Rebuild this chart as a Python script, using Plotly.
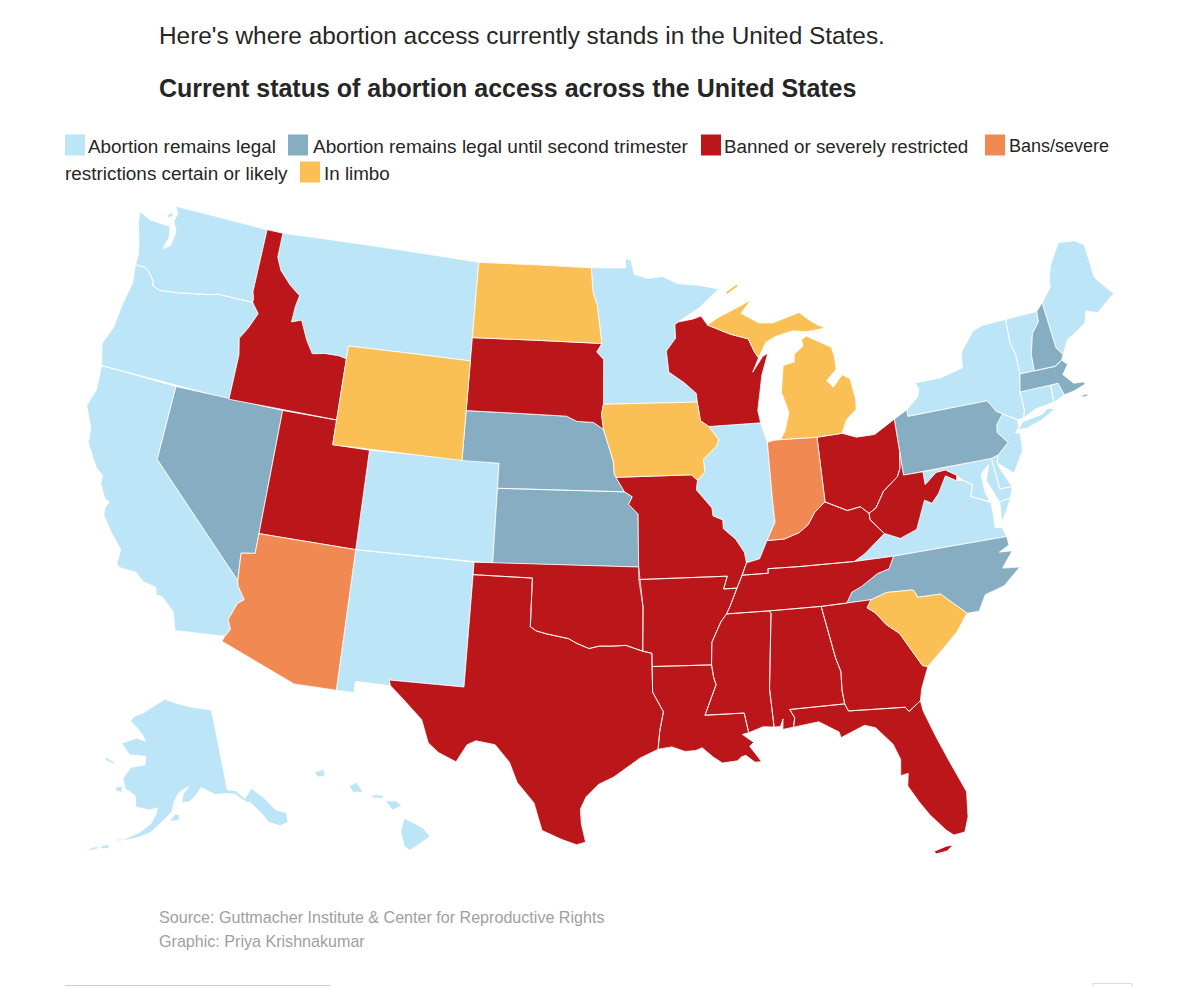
import plotly.graph_objects as go

# state outlines as (lon, lat), read by eye
WA = [(-117.03,49.00),(-122.76,49.00),(-122.50,48.75),(-122.60,48.40),(-122.30,48.00),(-122.40,47.40),(-122.80,47.20),(-122.60,47.70),(-122.75,48.15),(-123.20,48.15),(-124.00,48.17),(-124.72,48.38),(-124.60,47.90),(-124.20,47.10),(-124.05,46.70),(-124.05,46.27),(-123.50,46.27),(-123.20,46.15),(-122.80,45.85),(-122.75,45.65),(-122.30,45.55),(-121.20,45.65),(-120.65,45.74),(-119.95,45.83),(-119.30,45.93),(-119.00,46.00),(-116.92,46.00),(-116.92,46.17),(-117.04,46.42)]
WA_SAN_JUAN = [(-123.10,48.55),(-122.80,48.72),(-122.75,48.60),(-122.95,48.45)]
OR = [(-124.05,46.27),(-123.50,46.27),(-123.20,46.15),(-122.80,45.85),(-122.75,45.65),(-122.30,45.55),(-121.20,45.65),(-120.65,45.74),(-119.95,45.83),(-119.30,45.93),(-119.00,46.00),(-116.92,46.00),(-116.47,45.60),(-116.85,44.95),(-117.22,44.47),(-117.03,43.83),(-117.03,42.00),(-124.21,42.00),(-124.55,42.84),(-124.20,43.60),(-124.10,44.60),(-123.90,45.50)]
CA = [(-124.21,42.00),(-120.00,42.00),(-120.00,39.00),(-114.63,35.00),(-114.57,34.80),(-114.14,34.30),(-114.43,34.10),(-114.72,33.40),(-114.52,33.03),(-114.72,32.72),(-117.12,32.53),(-117.25,32.85),(-117.40,33.25),(-118.10,33.73),(-118.40,33.75),(-118.50,34.03),(-119.20,34.15),(-119.60,34.42),(-120.47,34.45),(-120.65,34.58),(-120.63,35.15),(-121.30,35.70),(-121.90,36.30),(-121.95,36.60),(-121.80,36.85),(-122.10,36.97),(-122.50,37.50),(-122.50,37.80),(-122.95,38.05),(-123.70,38.90),(-123.80,39.50),(-124.35,40.30),(-124.10,41.00)]
NV = [(-120.00,42.00),(-114.04,42.00),(-114.04,36.20),(-114.74,36.10),(-114.63,35.00),(-120.00,39.00)]
ID = [(-117.03,49.00),(-116.05,49.00),(-116.05,48.00),(-115.70,47.50),(-115.00,47.00),(-114.33,46.65),(-114.45,46.20),(-114.50,45.55),(-113.95,45.70),(-113.45,44.95),(-113.00,44.45),(-112.30,44.55),(-111.50,44.55),(-111.05,44.48),(-111.05,42.00),(-117.03,42.00),(-117.03,43.83),(-117.22,44.47),(-116.85,44.95),(-116.47,45.60),(-116.92,46.00),(-116.92,46.17),(-117.04,46.42)]
MT = [(-116.05,49.00),(-104.05,49.00),(-104.05,45.00),(-111.05,45.00),(-111.05,44.48),(-111.50,44.55),(-112.30,44.55),(-113.00,44.45),(-113.45,44.95),(-113.95,45.70),(-114.50,45.55),(-114.45,46.20),(-114.33,46.65),(-115.00,47.00),(-115.70,47.50),(-116.05,48.00)]
WY = [(-111.05,45.00),(-104.05,45.00),(-104.05,41.00),(-111.05,41.00)]
UT = [(-114.04,42.00),(-111.05,42.00),(-111.05,41.00),(-109.05,41.00),(-109.05,37.00),(-114.04,37.00)]
CO = [(-109.05,41.00),(-102.05,41.00),(-102.05,37.00),(-109.05,37.00)]
AZ = [(-114.04,37.00),(-109.05,37.00),(-109.05,31.33),(-111.07,31.33),(-114.81,32.50),(-114.72,32.72),(-114.52,33.03),(-114.72,33.40),(-114.43,34.10),(-114.14,34.30),(-114.57,34.80),(-114.63,35.00),(-114.74,36.10),(-114.04,36.20)]
NM = [(-109.05,37.00),(-103.00,37.00),(-103.04,32.00),(-106.62,32.00),(-106.53,31.78),(-108.21,31.78),(-108.21,31.33),(-109.05,31.33)]
ND = [(-104.05,49.00),(-97.23,49.00),(-97.10,48.00),(-96.85,47.50),(-96.56,45.94),(-104.05,45.94)]
SD = [(-104.05,45.94),(-96.56,45.94),(-96.85,45.60),(-96.45,45.30),(-96.45,43.50),(-96.55,43.10),(-96.44,42.49),(-97.00,42.77),(-97.90,42.80),(-98.50,43.00),(-104.05,43.00)]
NE = [(-104.05,43.00),(-98.50,43.00),(-97.90,42.80),(-97.00,42.77),(-96.44,42.49),(-96.10,41.70),(-95.90,41.20),(-95.85,40.70),(-95.31,40.00),(-102.05,40.00),(-102.05,41.00),(-104.05,41.00)]
KS = [(-102.05,40.00),(-95.31,40.00),(-94.90,39.80),(-95.10,39.50),(-94.61,39.11),(-94.62,37.00),(-102.05,37.00)]
OK = [(-103.00,37.00),(-94.62,37.00),(-94.43,35.40),(-94.48,33.64),(-95.30,33.88),(-96.00,33.85),(-96.60,33.85),(-97.10,33.75),(-97.70,33.95),(-98.10,34.13),(-99.20,34.30),(-99.70,34.40),(-100.00,34.56),(-100.00,36.50),(-103.00,36.50)]
TX = [(-103.00,36.50),(-100.00,36.50),(-100.00,34.56),(-99.70,34.40),(-99.20,34.30),(-98.10,34.13),(-97.70,33.95),(-97.10,33.75),(-96.60,33.85),(-96.00,33.85),(-95.30,33.88),(-94.48,33.64),(-94.04,33.55),(-94.04,31.99),(-93.55,31.20),(-93.75,30.40),(-93.84,29.70),(-94.70,29.35),(-95.10,29.10),(-95.90,28.60),(-96.60,28.30),(-97.15,27.80),(-97.40,27.30),(-97.35,26.70),(-97.15,25.96),(-97.55,25.85),(-98.20,26.05),(-99.10,26.40),(-99.50,27.50),(-100.30,28.30),(-100.70,29.10),(-101.40,29.77),(-102.30,29.88),(-102.70,29.70),(-103.15,28.98),(-104.00,29.30),(-104.50,29.65),(-104.90,30.55),(-106.00,31.40),(-106.53,31.78),(-106.62,32.00),(-103.04,32.00)]
MN = [(-97.23,49.00),(-95.15,49.00),(-95.15,49.38),(-94.82,49.32),(-94.64,48.74),(-93.80,48.55),(-92.95,48.62),(-92.00,48.30),(-90.80,48.20),(-89.60,48.00),(-90.80,47.30),(-92.10,46.75),(-92.30,46.66),(-92.29,46.10),(-92.85,45.60),(-92.75,44.75),(-91.90,44.30),(-91.25,43.85),(-91.22,43.50),(-96.45,43.50),(-96.45,45.30),(-96.85,45.60),(-96.56,45.94),(-96.85,47.50),(-97.10,48.00)]
IA = [(-96.45,43.50),(-91.22,43.50),(-91.10,42.75),(-90.65,42.50),(-90.15,41.95),(-90.30,41.70),(-91.05,41.20),(-91.00,40.70),(-91.42,40.38),(-91.73,40.61),(-95.77,40.58),(-95.85,40.70),(-95.90,41.20),(-96.10,41.70),(-96.44,42.49),(-96.55,43.10)]
MO = [(-95.77,40.58),(-91.73,40.61),(-91.42,40.38),(-91.50,40.00),(-90.73,39.25),(-90.70,38.93),(-90.20,38.75),(-90.20,38.40),(-89.60,37.95),(-89.20,37.40),(-89.13,36.98),(-89.40,36.50),(-89.70,36.00),(-90.37,36.00),(-90.15,36.50),(-94.62,36.50),(-94.62,37.00),(-94.61,39.11),(-95.10,39.50),(-94.90,39.80),(-95.31,40.00)]
AR = [(-94.62,36.50),(-90.15,36.50),(-90.37,36.00),(-89.70,36.00),(-90.10,35.30),(-90.30,35.00),(-90.60,34.70),(-91.10,33.90),(-91.17,33.00),(-94.04,33.02),(-94.04,33.55),(-94.48,33.64),(-94.43,35.40)]
LA = [(-94.04,33.02),(-91.17,33.00),(-91.10,32.50),(-91.00,32.20),(-91.60,31.00),(-89.75,31.00),(-89.60,30.20),(-89.90,30.15),(-89.40,29.80),(-89.60,29.65),(-89.40,29.40),(-89.10,29.00),(-89.40,29.00),(-89.80,29.30),(-90.00,29.25),(-90.20,29.10),(-90.90,29.05),(-91.30,29.30),(-91.80,29.70),(-92.10,29.60),(-92.60,29.58),(-93.20,29.78),(-93.84,29.70),(-93.75,30.40),(-93.55,31.20),(-94.04,31.99)]
MS = [(-90.30,35.00),(-88.20,35.00),(-88.10,34.90),(-88.47,31.90),(-88.40,30.35),(-88.90,30.40),(-89.60,30.20),(-89.75,31.00),(-91.60,31.00),(-91.00,32.20),(-91.10,32.50),(-91.17,33.00),(-91.10,33.90),(-90.60,34.70)]
AL = [(-88.20,35.00),(-85.60,34.98),(-85.18,32.87),(-85.00,32.30),(-85.05,31.55),(-85.00,31.00),(-87.60,31.00),(-87.40,30.65),(-87.50,30.28),(-88.00,30.23),(-87.95,30.65),(-88.10,30.35),(-88.40,30.35),(-88.47,31.90),(-88.10,34.90)]
GA = [(-85.60,34.98),(-83.11,35.00),(-83.35,34.70),(-83.00,34.47),(-82.55,33.95),(-81.95,33.50),(-81.40,32.60),(-81.10,32.10),(-80.85,32.03),(-81.30,31.20),(-81.45,30.72),(-82.05,30.36),(-82.20,30.55),(-84.86,30.70),(-85.00,31.00),(-85.05,31.55),(-85.00,32.30),(-85.18,32.87)]
FL = [(-87.60,31.00),(-85.00,31.00),(-84.86,30.70),(-82.20,30.55),(-82.05,30.36),(-81.45,30.72),(-81.40,30.30),(-81.00,29.20),(-80.60,28.20),(-80.03,26.80),(-80.15,25.80),(-80.40,25.20),(-80.90,25.15),(-81.20,25.40),(-81.80,26.10),(-82.20,26.70),(-82.60,27.40),(-82.50,27.90),(-82.85,27.85),(-82.75,28.50),(-83.00,29.15),(-83.70,29.90),(-84.20,30.05),(-85.35,29.67),(-85.40,29.90),(-86.30,30.40),(-87.50,30.28),(-87.40,30.65)]
FL_KEYS = [(-81.85,24.62),(-81.30,24.75),(-81.00,24.75),(-81.30,24.55),(-81.80,24.50)]
TN = [(-90.30,35.00),(-88.20,35.00),(-85.60,34.98),(-84.32,34.99),(-84.00,35.40),(-83.50,35.57),(-82.60,36.00),(-82.00,36.12),(-81.68,36.59),(-83.68,36.60),(-86.50,36.65),(-88.07,36.68),(-88.07,36.50),(-89.40,36.50),(-89.70,36.00),(-90.10,35.30)]
KY = [(-89.40,36.50),(-88.07,36.50),(-88.07,36.68),(-86.50,36.65),(-83.68,36.60),(-83.10,36.85),(-81.97,37.54),(-82.60,38.17),(-82.60,38.42),(-83.00,38.73),(-83.70,38.65),(-84.80,39.10),(-85.40,38.73),(-85.80,38.28),(-86.30,38.00),(-87.10,37.80),(-88.00,37.80),(-88.45,37.10),(-89.13,36.98)]
OH = [(-84.82,41.70),(-83.45,41.73),(-82.70,41.50),(-81.70,41.50),(-80.52,41.98),(-80.52,40.64),(-80.65,40.00),(-80.85,39.70),(-81.70,39.20),(-82.20,38.60),(-82.60,38.42),(-83.00,38.73),(-83.70,38.65),(-84.80,39.10)]
IN = [(-87.53,41.70),(-87.20,41.75),(-86.80,41.76),(-84.82,41.70),(-84.80,39.10),(-85.40,38.73),(-85.80,38.28),(-86.30,38.00),(-87.10,37.80),(-88.00,37.80),(-87.50,38.50),(-87.53,39.35)]
IL = [(-90.65,42.50),(-87.80,42.50),(-87.53,41.70),(-87.53,39.35),(-87.50,38.50),(-88.00,37.80),(-88.45,37.10),(-89.13,36.98),(-89.20,37.40),(-89.60,37.95),(-90.20,38.40),(-90.20,38.75),(-90.70,38.93),(-90.73,39.25),(-91.50,40.00),(-91.42,40.38),(-91.00,40.70),(-91.05,41.20),(-90.30,41.70),(-90.15,41.95)]
WI = [(-92.10,46.75),(-91.20,46.85),(-90.75,46.95),(-90.40,46.57),(-89.10,46.14),(-88.10,45.90),(-87.80,45.35),(-87.60,45.10),(-88.00,44.55),(-87.35,45.15),(-87.05,45.25),(-87.50,44.40),(-87.70,43.70),(-87.90,43.00),(-87.80,42.50),(-90.65,42.50),(-91.10,42.75),(-91.22,43.50),(-91.25,43.85),(-91.90,44.30),(-92.75,44.75),(-92.85,45.60),(-92.29,46.10),(-92.30,46.66)]
MI_LOWER = [(-84.75,45.78),(-84.10,45.50),(-83.40,45.20),(-83.30,44.80),(-83.30,44.30),(-83.90,43.90),(-83.60,43.60),(-83.00,44.05),(-82.60,43.85),(-82.45,43.00),(-82.50,42.60),(-83.10,42.25),(-83.45,41.73),(-84.82,41.70),(-86.80,41.76),(-86.50,42.10),(-86.20,42.80),(-86.50,43.65),(-86.25,44.70),(-85.60,44.80),(-85.55,45.10),(-85.00,45.40),(-85.05,45.65)]
MI_UPPER = [(-90.40,46.57),(-89.80,46.83),(-88.90,47.10),(-87.75,47.45),(-88.40,46.95),(-87.40,46.50),(-86.60,46.45),(-85.00,46.75),(-84.55,46.45),(-84.10,46.20),(-83.60,46.00),(-84.70,45.95),(-85.50,46.05),(-86.50,45.90),(-87.10,45.70),(-87.60,45.10),(-87.80,45.35),(-88.10,45.90),(-89.10,46.14)]
MI_ROYALE = [(-89.20,47.85),(-88.50,48.15),(-88.45,48.05),(-89.15,47.75)]
PA = [(-80.52,41.98),(-79.76,42.27),(-79.76,42.00),(-75.35,42.00),(-75.00,41.50),(-74.70,41.36),(-75.13,40.98),(-75.20,40.68),(-74.75,40.20),(-75.40,39.80),(-75.79,39.72),(-80.52,39.72),(-80.52,40.64)]
NY = [(-79.76,42.27),(-79.05,42.70),(-78.90,43.00),(-79.05,43.27),(-77.60,43.28),(-76.30,43.50),(-76.20,44.10),(-75.30,44.85),(-74.70,45.00),(-73.34,45.01),(-73.40,44.00),(-73.25,43.55),(-73.27,42.75),(-73.50,42.05),(-73.50,41.30),(-73.65,41.00),(-74.00,41.00),(-74.70,41.36),(-75.00,41.50),(-75.35,42.00),(-79.76,42.00)]
NY_LONG_ISLAND = [(-74.05,40.60),(-73.75,40.87),(-72.60,40.98),(-72.30,41.15),(-71.87,41.07),(-72.75,40.75),(-73.60,40.58)]
NJ = [(-74.70,41.36),(-74.00,41.00),(-74.00,40.70),(-74.25,40.50),(-74.00,40.45),(-74.10,39.75),(-74.80,38.95),(-75.20,39.25),(-75.55,39.50),(-75.40,39.80),(-74.75,40.20),(-75.20,40.68),(-75.13,40.98)]
DE = [(-75.79,39.72),(-75.40,39.80),(-75.55,39.50),(-75.40,39.10),(-75.05,38.45),(-75.70,38.46)]
MD = [(-79.48,39.72),(-75.79,39.72),(-75.70,38.46),(-75.05,38.45),(-75.25,38.03),(-75.85,37.95),(-76.30,38.90),(-76.00,39.50),(-76.50,39.20),(-76.50,38.50),(-76.35,38.05),(-77.00,38.30),(-77.25,38.40),(-77.05,38.85),(-77.50,39.10),(-77.75,39.33),(-78.30,39.63),(-78.80,39.60),(-79.48,39.20)]
VA = [(-83.68,36.60),(-81.68,36.59),(-75.87,36.55),(-76.00,36.93),(-76.35,37.00),(-76.30,37.55),(-76.30,38.00),(-77.00,38.30),(-77.25,38.40),(-77.05,38.85),(-77.50,39.10),(-77.83,39.13),(-78.35,39.40),(-78.87,38.76),(-79.30,38.42),(-79.65,38.60),(-80.30,37.50),(-81.20,37.25),(-81.97,37.54),(-83.10,36.85)]
VA_SHORE = [(-75.95,37.15),(-75.85,37.95),(-75.25,38.03),(-75.65,37.50)]
WV = [(-82.60,38.17),(-81.97,37.54),(-81.20,37.25),(-80.30,37.50),(-79.65,38.60),(-79.30,38.42),(-78.87,38.76),(-78.35,39.40),(-77.83,39.13),(-77.75,39.33),(-78.30,39.63),(-78.80,39.60),(-79.48,39.20),(-79.48,39.72),(-80.52,39.72),(-80.52,40.64),(-80.65,40.00),(-80.85,39.70),(-81.70,39.20),(-82.20,38.60),(-82.60,38.42)]
NC = [(-84.32,34.99),(-84.00,35.40),(-83.50,35.57),(-82.60,36.00),(-82.00,36.12),(-81.68,36.59),(-75.87,36.55),(-75.85,36.20),(-76.40,36.00),(-75.75,35.95),(-76.40,35.35),(-75.55,35.25),(-76.50,34.65),(-77.50,34.45),(-77.95,33.85),(-78.55,33.86),(-79.67,34.80),(-80.80,34.82),(-80.93,35.10),(-81.05,35.15),(-82.30,35.20),(-83.11,35.00)]
SC = [(-83.11,35.00),(-82.30,35.20),(-81.05,35.15),(-80.93,35.10),(-80.80,34.82),(-79.67,34.80),(-78.55,33.86),(-79.20,33.20),(-79.90,32.70),(-80.85,32.03),(-81.10,32.10),(-81.40,32.60),(-81.95,33.50),(-82.55,33.95),(-83.00,34.47),(-83.35,34.70)]
CT = [(-73.50,42.05),(-71.80,42.02),(-71.85,41.32),(-72.90,41.25),(-73.65,41.00),(-73.50,41.30)]
RI = [(-71.80,42.02),(-71.38,42.02),(-71.20,41.50),(-71.85,41.32)]
MA = [(-73.27,42.75),(-71.30,42.70),(-70.85,42.87),(-70.60,42.65),(-71.00,42.30),(-70.55,41.85),(-70.00,41.80),(-70.20,42.07),(-69.95,41.70),(-70.65,41.55),(-71.20,41.50),(-71.38,42.02),(-71.80,42.02),(-73.50,42.05)]
MA_NANTUCKET = [(-70.30,41.30),(-70.00,41.30),(-70.00,41.22),(-70.30,41.22)]
VT = [(-73.34,45.01),(-71.50,45.01),(-71.55,44.60),(-72.05,44.20),(-72.40,43.40),(-72.46,42.73),(-73.27,42.75),(-73.25,43.55),(-73.40,44.00)]
NH = [(-71.50,45.01),(-71.08,45.30),(-70.98,43.40),(-70.70,43.07),(-70.85,42.87),(-71.30,42.70),(-72.46,42.73),(-72.40,43.40),(-72.05,44.20),(-71.55,44.60)]
ME = [(-71.08,45.30),(-70.40,45.80),(-70.30,46.20),(-70.00,46.70),(-69.23,47.46),(-68.30,47.35),(-67.80,47.07),(-67.80,45.70),(-67.45,45.30),(-67.00,44.85),(-68.20,44.30),(-68.80,44.50),(-69.05,44.05),(-69.80,43.75),(-70.25,43.60),(-70.70,43.07),(-70.98,43.40)]
AK = [(-141.00,69.65),(-144.00,70.00),(-148.00,70.40),(-152.00,70.85),(-156.50,71.35),(-160.00,70.50),(-163.00,69.60),(-166.20,68.90),(-166.80,68.35),(-164.50,67.70),(-162.60,67.00),(-161.50,66.30),(-164.00,66.55),(-168.10,65.65),(-165.40,64.50),(-161.00,64.60),(-161.00,63.60),(-164.50,63.10),(-166.00,61.70),(-165.00,60.60),(-162.50,60.00),(-162.00,58.70),(-159.00,58.50),(-157.20,58.80),(-157.50,58.00),(-158.50,56.90),(-160.50,55.90),(-162.80,55.10),(-164.80,54.60),(-163.00,54.80),(-161.00,55.20),(-158.50,55.90),(-156.50,57.00),(-154.00,58.40),(-153.50,59.50),(-152.50,60.50),(-151.00,61.00),(-149.90,61.20),(-151.30,60.50),(-151.80,59.40),(-150.00,59.50),(-148.50,60.10),(-147.00,61.00),(-146.00,60.70),(-144.00,60.00),(-141.50,59.90),(-139.50,59.60),(-137.50,58.50),(-136.50,58.20),(-135.00,56.80),(-134.00,55.50),(-132.00,54.70),(-130.30,54.80),(-130.00,55.90),(-131.80,56.60),(-133.50,58.40),(-135.50,59.80),(-137.50,58.90),(-139.20,60.00),(-141.00,60.30)]
AK_KODIAK = [(-154.50,57.30),(-152.50,57.40),(-152.30,58.10),(-153.30,58.10)]
AK_NUNIVAK = [(-167.40,60.20),(-165.70,60.10),(-165.70,60.80),(-166.80,60.70)]
AK_STLAWRENCE = [(-171.70,63.70),(-168.80,63.30),(-168.90,63.10),(-171.00,63.30)]
AK_UNIMAK = [(-165.00,54.40),(-163.20,54.80),(-164.00,54.95),(-165.00,54.70)]
AK_UNALASKA = [(-168.00,53.30),(-166.20,53.50),(-166.40,54.00),(-167.50,53.70)]
AK_UMNAK = [(-170.00,52.80),(-168.30,53.20),(-168.50,53.50),(-169.80,53.05)]
HI_BIG = [(-155.90,20.25),(-155.10,19.85),(-154.80,19.50),(-155.65,18.95),(-155.90,19.10),(-156.05,19.70)]
HI_MAUI = [(-156.70,20.95),(-156.25,20.95),(-156.00,20.75),(-156.40,20.58)]
HI_MOLOKAI = [(-157.30,21.20),(-156.75,21.17),(-156.85,21.05),(-157.25,21.08)]
HI_OAHU = [(-158.25,21.55),(-157.95,21.70),(-157.65,21.30),(-158.10,21.30)]
HI_KAUAI = [(-159.75,22.10),(-159.35,22.22),(-159.30,21.95),(-159.60,21.90)]

LEGAL = [WA, WA_SAN_JUAN, OR, CA, MT, CO, NM, MN, IL, NY, NY_LONG_ISLAND, VT, ME, NJ, CT, RI, DE, MD, VA, VA_SHORE, AK, AK_KODIAK, AK_NUNIVAK, AK_STLAWRENCE, AK_UNIMAK, AK_UNALASKA, AK_UMNAK, HI_BIG, HI_MAUI, HI_MOLOKAI, HI_OAHU, HI_KAUAI]
SECOND_TRIMESTER = [NV, NE, KS, NC, PA, NH, MA, MA_NANTUCKET]
BANNED = [ID, UT, SD, WI, MO, OK, TX, AR, LA, MS, AL, GA, TN, KY, OH, WV, FL, FL_KEYS]
LIKELY = [AZ, IN]
LIMBO = [ND, WY, IA, MI_LOWER, MI_UPPER, MI_ROYALE, SC]

GROUPS = [LEGAL, SECOND_TRIMESTER, BANNED, LIKELY, LIMBO]
COLORS = ["#bde5f8", "#86adc1", "#bb1619", "#f18a52", "#fac055"]

# albers usa clips to its fitted box, so the plot is wider than the page and shifted left
FIG_WIDTH = 1296
PAGE_SHIFT = 48


def clockwise(ring):
    # d3 fills the outside of the ring if it winds the wrong way
    area = sum(a[0] * b[1] - b[0] * a[1] for a, b in zip(ring, ring[1:] + ring[:1]))
    return ring if area < 0 else ring[::-1]


fig = go.Figure()
for group, color in zip(GROUPS, COLORS):
    lon, lat = [], []
    for ring in group:
        ring = clockwise(ring)
        lon += [p[0] for p in ring] + [ring[0][0], None]
        lat += [p[1] for p in ring] + [ring[0][1], None]
    fig.add_trace(go.Scattergeo(lon=lon, lat=lat, mode="lines", fill="toself", fillcolor=color,
                                line=dict(color="white", width=0.8), hoverinfo="skip", showlegend=False))


def px_x(x):
    return (x + PAGE_SHIFT) / FIG_WIDTH


def px_y(y):
    return 1 - y / 987


def text(x, y, s, size, color="#262626", bold=False):
    fig.add_annotation(x=px_x(x - 1.5), y=px_y(y), xref="paper", yref="paper", xanchor="left", yanchor="middle",
                       text="<b>%s</b>" % s if bold else s, showarrow=False, align="left",
                       font=dict(family="Liberation Sans", size=size, color=color))


def swatch(x, y, color):
    fig.add_shape(type="rect", xref="paper", yref="paper", x0=px_x(x), x1=px_x(x + 20), y0=px_y(y - 10.5), y1=px_y(y + 10.5),
                  fillcolor=color, line_width=0)


text(158, 35, "Here's where abortion access currently stands in the United States.", 24.4)
text(158, 88, "Current status of abortion access across the United States", 25, bold=True)

swatch(65, 145, COLORS[0])
text(87, 146, "Abortion remains legal", 18.9)
swatch(288, 145, COLORS[1])
text(312, 146, "Abortion remains legal until second trimester", 19)
swatch(701, 145, COLORS[2])
text(724, 146, "Banned or severely restricted", 18.8)
swatch(985, 145, COLORS[3])
text(1008, 146, "Bans/severe", 18)
text(64, 173, "restrictions certain or likely", 18.9)
swatch(300, 172, COLORS[4])
text(323, 173, "In limbo", 18.8)

text(158, 917, "Source: Guttmacher Institute &amp; Center for Reproductive Rights", 16.1, color="#a0a0a0")
text(158, 941, "Graphic: Priya Krishnakumar", 16.1, color="#a0a0a0")

# cut-off page furniture along the bottom edge
fig.add_shape(type="line", xref="paper", yref="paper", x0=px_x(65), x1=px_x(330), y0=px_y(985.5), y1=px_y(985.5),
              line=dict(color="#cfcfcf", width=1))
fig.add_shape(type="rect", xref="paper", yref="paper", x0=px_x(1093), x1=px_x(1132), y0=px_y(983.5), y1=px_y(992),
              fillcolor="white", line=dict(color="#dcdcdc", width=1))

fig.update_layout(
    width=FIG_WIDTH, height=987, margin=dict(l=0, r=0, t=0, b=0), paper_bgcolor="white",
    geo=dict(scope="usa", projection=dict(type="albers usa", scale=1.0), bgcolor="rgba(0,0,0,0)",
             domain=dict(x=[0, 1], y=[0.0606, 0.8766]),
             showland=False, showlakes=False, showcoastlines=False, showsubunits=False,
             showcountries=False, showocean=False, showrivers=False, showframe=False),
)
fig.write_html("out.html", config=dict(displayModeBar=False),
               post_script="document.body.style.margin='0 0 0 -%dpx';document.documentElement.style.overflow='hidden';" % PAGE_SHIFT)
